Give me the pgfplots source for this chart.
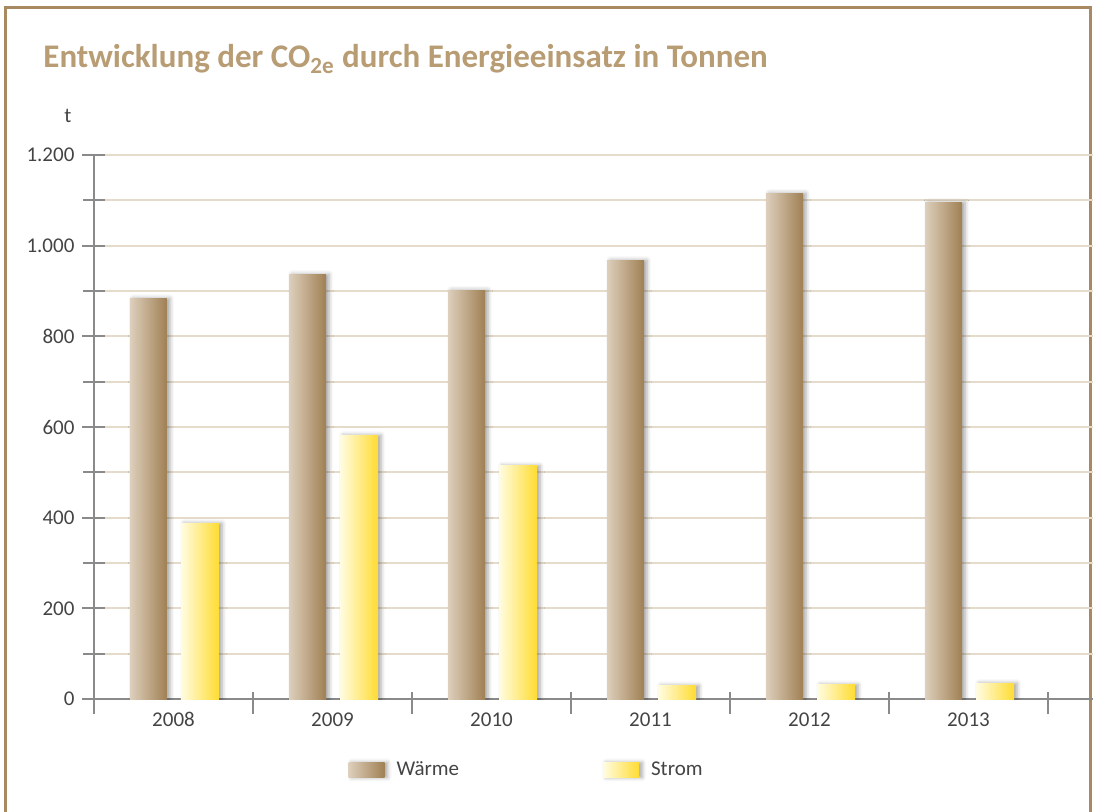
\documentclass[border=0pt]{standalone}
\usepackage{fontspec}
\setmainfont{Carlito}
\usepackage{pgfplots}
\pgfplotsset{compat=1.18}
\usetikzlibrary{shadows.blur}

\definecolor{frameTan}{HTML}{A88A62}
\definecolor{titleTan}{HTML}{B89C74}
\definecolor{gridTan}{HTML}{E5DBCA}
\definecolor{axisGray}{HTML}{8A8A8A}
\definecolor{labelGray}{HTML}{444444}
\definecolor{waermeL}{HTML}{DDCFBC}
\definecolor{waermeR}{HTML}{A08054}
\definecolor{stromL}{HTML}{FFFCE2}
\definecolor{stromR}{HTML}{FFDC32}

\tikzset{barshadow/.style={blur shadow={shadow xshift=1.5pt, shadow yshift=0pt,
  shadow blur radius=2pt, shadow opacity=35}}}
% each bar is its own plot so that every bar gets its own gradient
\pgfplotsset{
  waerme/.style={ybar, bar width=18.5pt, bar shift=-12.5pt, draw=none,
    left color=waermeL, right color=waermeR, barshadow},
  strom/.style={ybar, bar width=19pt, bar shift=13.25pt, draw=none,
    left color=stromL, right color=stromR, barshadow},
}

\begin{document}
\begin{tikzpicture}
\path[use as bounding box] (0,0) rectangle (546.5pt,-406pt);
% frame
\draw[frameTan, line width=1.5pt] (2.5pt,-406pt) |- (545pt,-3.75pt) -- (545pt,-406pt);
% title
\node[anchor=base west, inner sep=0, text=titleTan,
      font=\bfseries\fontsize{16.5}{18}\selectfont] at (21.5pt,-34pt)
  {Entwicklung der CO\textsubscript{2e} durch Energieeinsatz in Tonnen};
% unit
\node[text=labelGray, font=\fontsize{10.5}{12}\selectfont] at (34pt,-58pt) {t};

\begin{axis}[
  at={(47pt,-349.5pt)}, anchor=south west,
  scale only axis, width=499.5pt, height=272pt,
  xmin=-0.5, xmax=5.783, ymin=0, ymax=1200,
  axis x line*=bottom, axis y line*=left,
  axis line style={axisGray, line width=1pt},
  xtick={0,...,5}, xticklabels={2008,2009,2010,2011,2012,2013},
  minor xtick={-0.5,0.5,...,5.5},
  major x tick style={draw=none},
  minor x tick style={yshift=-1.75pt},
  ytick={0,200,...,1200}, minor ytick={100,300,...,1100},
  tick align=center, major tick length=11.5pt, minor tick length=11pt,
  tick style={axisGray, line width=1pt},
  ymajorgrids, yminorgrids,
  major grid style={gridTan, line width=1pt},
  minor grid style={gridTan, line width=1pt},
  scaled y ticks=false,
  /pgf/number format/assume math mode=true,
  ticklabel style={font=\fontsize{10.5}{12}\selectfont, text=labelGray},
  yticklabel style={xshift=-0.5pt, /pgf/number format/1000 sep={.}},
  xticklabel style={yshift=2.5pt},
  legend style={at={(0.434,-0.1305)}, anchor=center, draw=none, fill=none,
    legend columns=2, font=\fontsize{10.5}{12}\selectfont, text=labelGray,
    /tikz/every odd column/.append style={column sep=4pt},
    /tikz/every even column/.append style={column sep=70pt}},
  legend cell align=left,
  legend image code/.code={\path[#1] (0pt,-3.75pt) rectangle (18pt,3.75pt);},
]
\addplot[waerme] coordinates {(0,884)};
\addlegendentry{Wärme}
\addplot[strom] coordinates {(0,388)};
\addlegendentry{Strom}
\addplot[waerme, forget plot] coordinates {(1,937)};
\addplot[waerme, forget plot] coordinates {(2,902)};
\addplot[waerme, forget plot] coordinates {(3,968)};
\addplot[waerme, forget plot] coordinates {(4,1116)};
\addplot[waerme, forget plot] coordinates {(5,1096)};
\addplot[strom, forget plot] coordinates {(1,582)};
\addplot[strom, forget plot] coordinates {(2,515)};
\addplot[strom, forget plot] coordinates {(3,30)};
\addplot[strom, forget plot] coordinates {(4,32)};
\addplot[strom, forget plot] coordinates {(5,35)};
\end{axis}
\end{tikzpicture}
\end{document}
